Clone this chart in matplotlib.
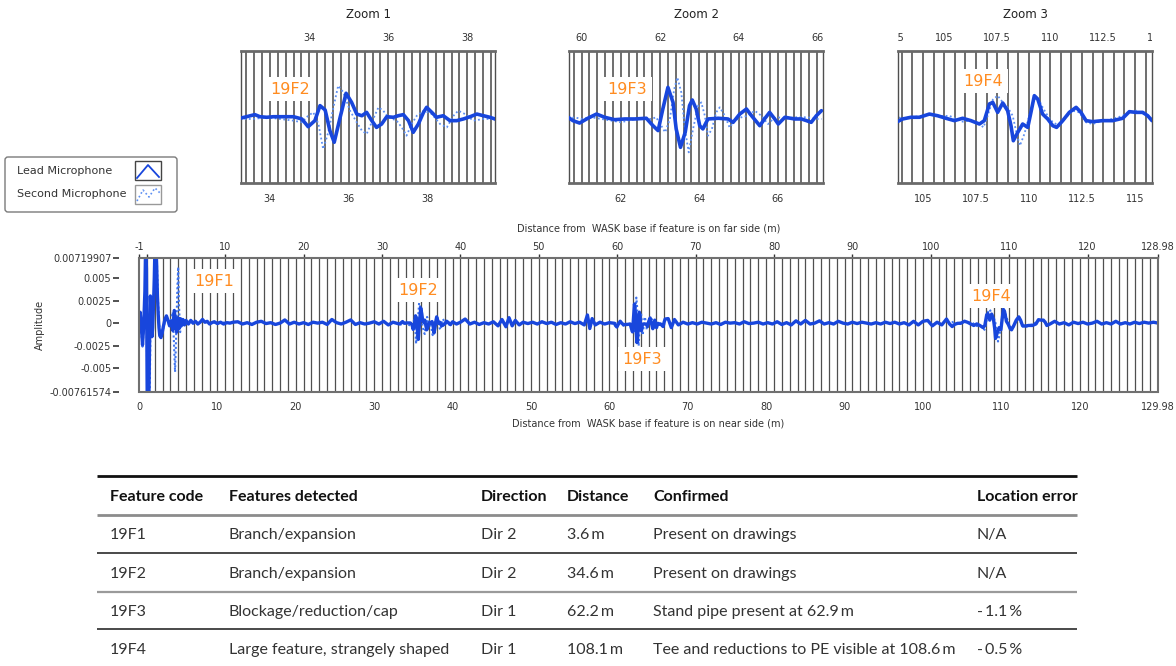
import numpy as np
import matplotlib
matplotlib.use("Agg")
import matplotlib.pyplot as plt
from matplotlib.patches import FancyBboxPatch, Rectangle
from matplotlib.transforms import Bbox, TransformedBbox, blended_transform_factory

W, H = 1176, 666
AMP = 1e-3  # all trace amplitudes below are given in units of 1e-3

# ---------------- traces: (distance from base, near side [m], amplitude) ----------------
lead_near = [
    (0.0, 0.0), (0.15, 1.2), (0.3, -0.5), (0.45, -2.4), (0.55, -1.0), (0.65, 1.0), (0.75, 3.5),
    (0.85, 9.0), (0.95, 6.0), (1.05, -9.0), (1.15, -9.0), (1.25, -9.0), (1.35, -2.0), (1.45, 3.0),
    (1.55, 1.0), (1.65, -1.5), (1.75, -0.5), (1.85, 2.0), (1.95, 5.0), (2.05, 9.0), (2.15, 9.0),
    (2.25, 6.5), (2.35, 3.0), (2.45, 1.0), (2.55, -0.5), (2.65, -1.4), (2.8, -1.6), (2.95, -1.1),
    (3.1, -0.4), (3.3, 0.4), (3.5, 0.8), (3.7, 0.3), (3.9, -0.3), (4.1, 0.2), (4.3, -0.8),
    (4.5, 1.4), (4.65, 0.2), (4.8, -1.0), (4.95, 0.6), (5.1, -0.6), (5.25, 0.5), (5.4, -0.3),
    (5.6, 0.4), (5.8, -0.2), (6.0, 0.3), (6.3, -0.1), (6.6, 0.3), (6.9, 0.0), (7.2, 0.2),
    (7.5, -0.1), (7.8, 0.1), (8.1, 0.4), (8.4, 0.1), (8.7, 0.2), (9.0, -0.1), (9.3, 0.05),
    (9.6, 0.15), (10.0, -0.05), (10.4, 0.1), (10.8, -0.1), (11.2, 0.05), (11.6, 0.0), (12.0, 0.1),
]
second_near = [
    (0.0, 0.0), (0.15, 0.8), (0.3, -1.0), (0.45, -2.6), (0.6, -0.5), (0.75, 2.0), (0.85, 9.0),
    (0.95, 9.0), (1.05, -9.0), (1.2, -9.0), (1.35, -9.0), (1.5, 2.0), (1.65, -1.0), (1.8, 1.0),
    (1.95, 4.0), (2.1, 9.0), (2.25, 8.0), (2.4, 3.0), (2.55, 0.0), (2.7, -1.2), (2.9, -1.4),
    (3.1, -0.6), (3.3, 0.2), (3.5, 0.6), (3.7, 0.2), (3.9, -0.4), (4.1, 0.5), (4.3, 1.2),
    (4.45, -2.0), (4.6, -5.4), (4.75, -1.0), (4.9, 4.0), (5.0, 6.2), (5.1, 2.0), (5.25, -1.0),
    (5.4, 0.5), (5.6, -0.3), (5.8, 0.2), (6.0, -0.1), (6.5, 0.2), (7.0, -0.1), (8.0, 0.2),
    (9.0, 0.0), (10.0, 0.1), (12.0, 0.0),
]
lead_12_33 = [
    (12.6, 0.15), (13.2, -0.1), (13.8, 0.05), (14.4, -0.15), (15.0, 0.1), (15.6, 0.2), (16.2, -0.05),
    (16.8, 0.05), (17.4, -0.15), (18.0, 0.0), (18.6, 0.35), (19.2, -0.1), (19.8, 0.1), (20.4, -0.1),
    (21.0, 0.05), (21.6, -0.15), (22.2, 0.1), (22.8, 0.0), (23.4, 0.1), (24.0, -0.15), (24.6, 0.4),
    (25.2, 0.05), (25.8, -0.1), (26.4, 0.1), (27.0, 0.35), (27.6, -0.15), (28.2, 0.05), (28.8, -0.1),
    (29.4, 0.0), (30.0, 0.15), (30.6, -0.1), (31.2, 0.2), (31.8, -0.2), (32.4, 0.1), (33.0, -0.05),
]
lead_40_60 = [
    (40.0, 0.15), (40.5, -0.1), (41.0, 0.1), (41.6, 0.45), (42.2, -0.1), (42.8, 0.1), (43.4, -0.15),
    (44.0, 0.05), (44.6, -0.1), (45.2, 0.15), (45.8, -0.3), (46.3, 0.4), (46.8, -0.4), (47.2, 0.6),
    (47.6, -0.3), (48.0, 0.3), (48.5, -0.2), (49.0, 0.1), (49.6, -0.05), (50.2, 0.1), (50.8, -0.1),
    (51.4, 0.15), (52.0, -0.05), (52.6, 0.1), (53.2, -0.15), (53.8, 0.05), (54.4, -0.1), (55.0, 0.15),
    (55.6, -0.05), (56.2, 0.1), (56.8, -0.2), (57.2, 0.9), (57.5, -0.6), (57.8, 0.5), (58.2, -0.2),
    (58.8, 0.1), (59.4, -0.1), (60.0, 0.05),
]
lead_67_103 = [
    (67.5, 0.5), (67.9, -0.5), (68.3, 0.4), (68.8, -0.2), (69.4, 0.1), (70.0, -0.1), (70.6, 0.05),
    (71.2, -0.1), (71.8, 0.1), (72.4, 0.0), (73.0, -0.1), (73.6, 0.05), (74.2, -0.15), (74.8, 0.1),
    (75.4, 0.0), (76.0, 0.05), (76.6, -0.1), (77.2, 0.15), (77.8, -0.05), (78.4, 0.0), (79.0, 0.1),
    (79.6, -0.1), (80.2, 0.05), (80.8, -0.1), (81.4, 0.15), (82.0, -0.15), (82.6, 0.05), (83.2, -0.2),
    (83.8, 0.25), (84.4, -0.1), (85.0, 0.3), (85.6, -0.1), (86.2, 0.0), (86.8, 0.25), (87.4, -0.1),
    (88.0, 0.05), (88.6, -0.1), (89.2, 0.2), (89.8, 0.0), (90.4, -0.1), (91.0, 0.1), (91.6, -0.05),
    (92.2, 0.1), (92.8, 0.0), (93.4, -0.1), (94.0, 0.05), (94.6, -0.1), (95.2, 0.1), (95.8, -0.05),
    (96.4, 0.1), (97.0, -0.1), (97.6, 0.05), (98.2, -0.2), (98.8, 0.2), (99.4, -0.2), (100.0, 0.2),
    (100.6, 0.3), (101.2, -0.3), (101.8, 0.1), (102.4, -0.2), (103.0, 0.45), (103.4, -0.1),
]
lead_116_130 = [
    (116.2, -0.1), (116.8, 0.2), (117.4, -0.1), (118.0, 0.05), (118.6, -0.2), (119.2, 0.1),
    (119.8, -0.05), (120.4, 0.1), (121.0, -0.1), (121.6, 0.0), (122.2, 0.2), (122.8, -0.1),
    (123.4, 0.05), (124.0, -0.1), (124.6, 0.2), (125.2, -0.1), (125.8, 0.05), (126.4, -0.1),
    (127.0, 0.1), (127.6, -0.05), (128.2, 0.1), (128.8, 0.0), (129.4, 0.1), (129.98, 0.0),
]

# smoothed traces around each feature (shown in the zoom panels)
zoom1_lead = [
    (33.25, -0.09), (33.41, 0.02), (33.62, 0.17), (33.75, 0.02), (33.92, -0.02), (34.09, 0.02),
    (34.34, 0.02), (34.60, 0.02), (34.81, -0.14), (34.97, -0.69), (35.14, -0.26), (35.27, 0.81),
    (35.40, 0.50), (35.52, -0.97), (35.63, -1.80), (35.78, -0.02), (35.93, 1.69), (36.07, 1.04),
    (36.20, 0.21), (36.33, 0.09), (36.45, 0.33), (36.58, -0.26), (36.70, -0.74), (36.83, -0.50),
    (36.96, 0.02), (37.13, -0.02), (37.25, 0.09), (37.38, 0.17), (37.51, -0.26), (37.63, -1.09),
    (37.76, -0.50), (37.89, 0.33), (37.97, 0.69), (38.10, 0.33), (38.22, -0.02), (38.39, 0.09),
    (38.56, -0.26), (38.73, -0.26), (38.90, -0.14), (39.07, 0.02), (39.24, 0.21), (39.41, 0.09),
    (39.57, -0.02), (39.73, -0.17),
]
zoom1_second = [
    (33.25, -0.14), (33.58, -0.14), (33.92, -0.02), (34.26, -0.14), (34.60, -0.26), (34.81, -0.38),
    (34.97, 0.09), (35.10, 0.33), (35.23, -0.50), (35.35, -2.28), (35.48, -1.09), (35.61, 0.69),
    (35.73, 2.23), (35.86, 1.76), (36.03, 0.45), (36.20, -0.38), (36.33, -0.97), (36.45, -1.21),
    (36.58, -0.38), (36.75, 0.69), (36.87, 0.45), (37.00, -0.02), (37.21, -0.26), (37.34, -0.74),
    (37.46, -1.33), (37.59, -0.50), (37.72, 0.09), (37.89, 0.45), (38.10, 0.21), (38.31, -0.50),
    (38.48, -0.74), (38.65, 0.09), (38.77, 0.45), (38.94, 0.21), (39.15, -0.26), (39.41, -0.14),
    (39.73, -0.14),
]
zoom2_lead = [
    (60.66, -0.02), (60.78, -0.26), (60.95, -0.43), (61.16, -0.09), (61.38, 0.21), (61.59, -0.02),
    (61.84, -0.19), (62.10, -0.14), (62.35, -0.14), (62.65, -0.09), (62.82, -0.62), (62.95, -0.97),
    (63.07, 0.57), (63.20, 2.11), (63.33, 1.04), (63.41, -0.85), (63.52, -2.16), (63.64, -1.09),
    (63.75, 0.81), (63.82, 1.21), (63.92, 0.57), (64.01, -0.62), (64.09, -0.85), (64.22, -0.14),
    (64.48, -0.09), (64.73, -0.14), (64.86, -0.38), (65.03, 0.21), (65.20, 0.57), (65.33, 0.09),
    (65.54, -0.62), (65.66, -0.14), (65.79, 0.33), (65.92, -0.14), (66.01, -0.50), (66.18, -0.02),
    (66.43, -0.14), (66.60, -0.14), (66.73, -0.26), (66.85, -0.38), (66.98, 0.09), (67.11, 0.45),
]
zoom2_second = [
    (60.66, -0.14), (60.82, -0.02), (60.99, -0.14), (61.25, -0.02), (61.50, -0.14), (61.76, -0.26),
    (62.01, -0.38), (62.27, -0.19), (62.52, -0.14), (62.78, -0.14), (62.90, -0.02), (63.03, -0.62),
    (63.13, -1.09), (63.25, -0.14), (63.36, 1.99), (63.44, 2.82), (63.54, 1.76), (63.63, -0.85),
    (63.73, -2.52), (63.84, -0.85), (63.97, 0.81), (64.05, 1.04), (64.14, 0.09), (64.22, -1.33),
    (64.32, -0.85), (64.43, 0.33), (64.52, 0.69), (64.65, 0.09), (64.77, -0.74), (64.90, -0.26),
    (65.07, -0.02), (65.24, 0.09), (65.41, 0.45), (65.58, 0.09), (65.75, -0.50), (65.88, -0.14),
    (66.01, -0.02), (66.18, -0.14), (66.43, -0.02), (66.77, -0.02), (66.98, -0.14), (67.11, -0.14),
]
zoom3_lead = [
    (103.73, -0.38), (104.04, -0.14), (104.43, -0.02), (104.83, -0.02), (105.30, 0.21),
    (105.69, 0.09), (106.08, -0.09), (106.48, -0.26), (106.87, -0.09), (107.26, -0.26),
    (107.66, -0.50), (107.89, -0.26), (108.13, 0.93), (108.29, 1.04), (108.52, 0.33),
    (108.76, 1.00), (108.99, 0.45), (109.15, -0.62), (109.26, -1.69), (109.47, -1.09),
    (109.70, -0.50), (109.94, -0.74), (110.09, 0.33), (110.25, 1.52), (110.41, 1.28),
    (110.64, 0.21), (110.88, -0.14), (111.12, -0.62), (111.30, -0.74), (111.59, -0.26),
    (111.90, 0.33), (112.22, 0.69), (112.45, 0.33), (112.69, -0.26), (113.00, -0.33),
    (113.47, -0.26), (113.95, -0.26), (114.42, -0.09), (114.73, 0.38), (115.05, 0.33),
    (115.36, 0.33), (115.60, 0.09), (115.80, -0.26),
]
zoom3_second = [
    (103.73, 0.21), (103.96, -0.14), (104.36, -0.02), (104.83, 0.05), (105.30, 0.14),
    (105.77, 0.05), (106.24, 0.09), (106.56, -0.14), (106.87, -0.33), (107.18, -0.26),
    (107.58, -0.38), (107.85, -0.74), (108.05, 0.09), (108.29, 1.23), (108.52, 1.52),
    (108.76, 1.04), (108.99, 0.69), (109.23, 0.09), (109.42, -1.21), (109.57, -2.04),
    (109.78, -1.21), (110.01, 0.09), (110.20, 1.16), (110.41, 1.40), (110.64, 0.69),
    (110.88, 0.09), (111.12, -0.38), (111.43, -0.62), (111.74, -0.02), (112.06, 0.45),
    (112.37, 0.33), (112.69, -0.38), (113.00, -0.50), (113.47, -0.26), (113.95, -0.14),
    (114.42, 0.09), (114.73, 0.33), (115.05, 0.45), (115.44, 0.21), (115.80, -0.14),
]

# ---------------- feature table ----------------
table_header = ["Feature code", "Features detected", "Direction", "Distance", "Confirmed", "Location error"]
feature_codes = ["19F1", "19F2", "19F3", "19F4"]
features_detected = ["Branch/expansion", "Branch/expansion", "Blockage/reduction/cap",
                     "Large feature, strangely shaped"]
directions = ["Dir 2", "Dir 2", "Dir 1", "Dir 1"]
distances_m = [3.6, 34.6, 62.2, 108.1]
confirmed = ["Present on drawings", "Present on drawings", "Stand pipe present at 62.9\u2009m",
             "Tee and reductions to PE visible at 108.6\u2009m"]
location_error = ["N/A", "N/A", "-\u20091.1\u2009%", "-\u20090.5\u2009%"]

Y_MIN, Y_MAX = -0.00761574, 0.00719907
ZOOM_HALF = 4.7e-3

LEAD = "#1846dc"
SECOND = "#3f74ee"
SECOND_ZOOM = "#5d8ff2"
ORANGE = "#ff8c21"
GRID = "#4f4f4f"
TXT = "#333333"


def pairs(p):
    a = np.array(p, dtype=float).T
    return a[0], a[1] * AMP


def px_axes(l, t, r, b):
    return fig.add_axes([l / W, 1 - b / H, (r - l) / W, (b - t) / H])


plt.rcParams["font.family"] = ["DejaVu Sans"]
fig = plt.figure(figsize=(W / 100, H / 100), dpi=100)

# ---------------- main trace ----------------
ax = px_axes(139, 258, 1158, 392)
ax.set_xlim(0, 129.98)
ax.set_ylim(Y_MIN, Y_MAX)
for s in ax.spines.values():
    s.set_visible(False)
ax.spines["left"].set_position(("outward", 14.4))
ax.add_patch(Rectangle((0, 0), 1, 1, transform=ax.transAxes, fill=False, ec="#707070",
                       lw=1.5, clip_on=False, zorder=6))
ax.vlines(np.arange(1, 130), 0, 1, transform=ax.get_xaxis_transform(), colors=GRID, lw=0.9, zorder=1)

main_lead = np.concatenate([np.array(p, dtype=float) for p in
                            (lead_near, lead_12_33, zoom1_lead, lead_40_60, zoom2_lead,
                             lead_67_103, zoom3_lead, lead_116_130)])
for seg in (second_near, zoom1_second, zoom2_second, zoom3_second):
    x, y = pairs(seg)
    ax.plot(x, y, color=SECOND, lw=1.5, ls=(0, (1, 1.2)), zorder=2)
ax.plot(main_lead[:, 0], main_lead[:, 1] * AMP, color=LEAD, lw=2.4, zorder=3)

ax.set_yticks([Y_MIN, -0.005, -0.0025, 0, 0.0025, 0.005, Y_MAX])
ax.set_yticklabels(["-0.00761574", "-0.005", "-0.0025", "0", "0.0025", "0.005", "0.00719907"])
ax.tick_params(axis="y", length=4, width=1.2, color=TXT, pad=1.5, labelsize=7, labelcolor=TXT)
ax.set_ylabel("Amplitude", fontsize=7, color=TXT, labelpad=3)

bottom_ticks = list(range(0, 130, 10)) + [129.98]
ax.set_xticks(bottom_ticks)
ax.set_xticklabels([f"{v:g}" for v in bottom_ticks])
ax.tick_params(axis="x", length=0, pad=7, labelsize=7, labelcolor=TXT)
ax.set_xlabel("Distance from  WASK base if feature is on near side (m)", fontsize=7, color=TXT, labelpad=5)

top = ax.secondary_xaxis("top", functions=(lambda d: d - 1, lambda d: d + 1))
top_ticks = [-1, 0] + list(range(10, 130, 10)) + [128.98]
top.set_xticks(top_ticks)
top.set_xticklabels(["-1", ""] + [f"{v:g}" for v in top_ticks[2:]])
top.tick_params(length=3, width=1, color=TXT, pad=1, labelsize=7, labelcolor=TXT)
top.spines["top"].set_visible(False)
top.set_xlabel("Distance from  WASK base if feature is on far side (m)", fontsize=7, color=TXT, labelpad=8)

main_label_pos = [(9.6, 0.00464), (35.6, 0.00365), (64.2, -0.00398), (108.7, 0.00299)]
for code, (lx, ly) in zip(feature_codes, main_label_pos):
    ax.text(lx, ly, code, color=ORANGE, fontsize=11.5, ha="center", va="center", zorder=5,
            bbox=dict(boxstyle="square,pad=0.3", fc="white", ec="none"))

# ---------------- zoom panels ----------------
zooms = [
    dict(box=(241, 51, 495, 183), xlim=(33.27, 39.70), step=0.2, top=[34, 36, 38], bottom=[34, 36, 38],
         lead=zoom1_lead, second=zoom1_second, code="19F2", lab=(34.51, 1.99e-3), title="Zoom 1"),
    dict(box=(569, 51, 823, 183), xlim=(60.68, 67.15), step=0.2, top=[60, 62, 64, 66], bottom=[62, 64, 66],
         lead=zoom2_lead, second=zoom2_second, code="19F3", lab=(62.16, 1.99e-3), title="Zoom 2"),
    dict(box=(898, 51, 1152, 183), xlim=(103.82, 115.80), step=0.5,
         top=[102.5, 105, 107.5, 110, 112.5, 115], bottom=[105, 107.5, 110, 112.5, 115],
         lead=zoom3_lead, second=zoom3_second, code="19F4", lab=(107.83, 2.56e-3), title="Zoom 3"),
]
for z in zooms:
    az = px_axes(*z["box"])
    lo, hi = z["xlim"]
    az.set_xlim(lo, hi)
    az.set_ylim(-ZOOM_HALF, ZOOM_HALF)
    az.set_yticks([])
    for side in ("top", "bottom"):
        az.spines[side].set_color("#6a6a6a")
        az.spines[side].set_linewidth(2)
    for side in ("left", "right"):
        az.spines[side].set_color(GRID)
        az.spines[side].set_linewidth(1)
    step = z["step"]
    gx = np.arange(np.ceil(lo / step) * step, hi, step)
    az.vlines(gx, 0, 1, transform=az.get_xaxis_transform(), colors="#555555", lw=1.2, zorder=1)

    x, y = pairs(z["second"])
    az.plot(x, y, color=SECOND_ZOOM, lw=1.3, ls=(0, (1, 1.4)), zorder=2)
    x, y = pairs(z["lead"])
    az.plot(x, y, color=LEAD, lw=2.6, zorder=3, solid_capstyle="round", solid_joinstyle="round")

    az.set_xticks(z["bottom"])
    az.set_xticklabels([f"{v:g}" for v in z["bottom"]])
    az.tick_params(axis="x", length=0, pad=8, labelsize=7, labelcolor=TXT)

    # far-side scale sits 1 m behind the near-side one; labels cut at the panel edges
    to_far = blended_transform_factory(az.transData, fig.transFigure)
    edge_clip = TransformedBbox(Bbox([[0, 0], [1, 1]]), blended_transform_factory(az.transAxes, fig.transFigure))
    for v in z["top"]:
        t = fig.text(v + 1, 1 - 38 / H, f"{v:g}", transform=to_far, fontsize=7, color=TXT,
                     ha="center", va="center")
        t.set_clip_on(True)
        t.set_clip_box(edge_clip)

    az.text(*z["lab"], z["code"], color=ORANGE, fontsize=11.5, ha="center", va="center", zorder=5,
            bbox=dict(boxstyle="square,pad=0.3", fc="white", ec="none"))

# ---------------- overlay: titles, legend, table ----------------
ov = fig.add_axes([0, 0, 1, 1])
ov.set_xlim(0, W)
ov.set_ylim(H, 0)
ov.axis("off")
ov.patch.set_visible(False)

for z in zooms:
    l, t, r, b = z["box"]
    ov.text((l + r) / 2, 15, z["title"], fontsize=8.5, color="#222222", ha="center", va="center")

ov.add_patch(FancyBboxPatch((5, 157), 172, 55, boxstyle="round,pad=0,rounding_size=3",
                            fc="white", ec="#7a7a7a", lw=1))
ov.text(17, 171, "Lead Microphone", fontsize=8, color=TXT, va="center")
ov.text(17, 194, "Second Microphone", fontsize=8, color=TXT, va="center")
ov.add_patch(Rectangle((135, 161), 26, 19, fc="white", ec="#444444", lw=1))
ov.add_patch(Rectangle((135, 185), 26, 19, fc="white", ec="#999999", lw=1))
ov.plot([137, 148, 159], [178, 165, 177], color=LEAD, lw=1.3)
ov.plot([137, 143, 149, 155, 160], [201, 190, 197, 188, 193], color=SECOND_ZOOM, lw=1.2, ls=(0, (1, 1.5)))

table_font = ["Lato", "DejaVu Sans"]
col_x = [110, 229, 481, 567, 653, 977]
row_y = [535, 574, 612, 650]
rules = [(476, "#111111", 2.0), (515, "#8c8c8c", 2.0), (553, "#3a3a3a", 1.3),
         (592, "#9a9a9a", 1.6), (629, "#3a3a3a", 1.3)]
for y, c, lw in rules:
    ov.plot([97, 1077], [y, y], color=c, lw=lw, solid_capstyle="butt")
for cx, head in zip(col_x, table_header):
    ov.text(cx, 497, head, fontsize=11.5, fontweight="bold", color="#111111", va="center", family=table_font)
rows = zip(feature_codes, features_detected, directions,
           [f"{d:g}\u2009m" for d in distances_m], confirmed, location_error)
for ry, row in zip(row_y, rows):
    for cx, cell in zip(col_x, row):
        ov.text(cx, ry, cell, fontsize=11.5, color="#333333", va="center", family=table_font)

fig.savefig("out.png", dpi=100)
